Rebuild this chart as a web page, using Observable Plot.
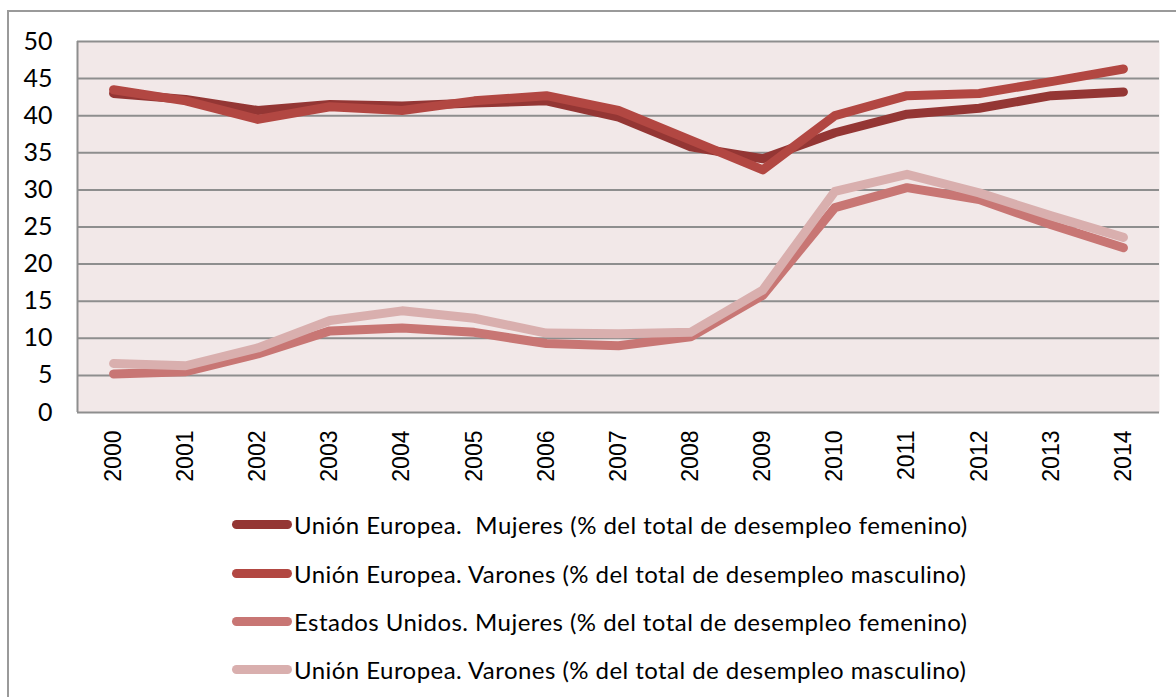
<!DOCTYPE html>
<html>
<head>
<meta charset="utf-8">
<script src="https://cdn.jsdelivr.net/npm/d3@7"></script>
<script src="https://cdn.jsdelivr.net/npm/@observablehq/plot@0.6"></script>
<style>
  html, body { margin: 0; padding: 0; background: #fff; }
  body { width: 1176px; height: 697px; position: relative; overflow: hidden; }
  #border { position: absolute; left: 7px; top: 10px; width: 1300px; height: 800px;
            border-left: 2px solid #9a9a9a; border-top: 2px solid #9a9a9a; }
  #chart { position: absolute; left: 0; top: 0; }
  #legend { position: absolute; left: 0; top: 0; width: 1176px; }
  .row { position: absolute; left: 232px; height: 30px; display: flex; align-items: center;
         font-family: Lato, "Open Sans", sans-serif; font-size: 24px; letter-spacing: 0.45px;
         color: #000; white-space: pre; }
  .sw { width: 60px; height: 9px; border-radius: 5px; margin-right: 2px; }
</style>
</head>
<body>
<div id="border"></div>
<div id="chart"></div>
<div id="legend"></div>
<script>
const years = [2000,2001,2002,2003,2004,2005,2006,2007,2008,2009,2010,2011,2012,2013,2014];
const seriesNames = [
  "Unión Europea.  Mujeres (% del total de desempleo femenino)",
  "Unión Europea. Varones (% del total de desempleo masculino)",
  "Estados Unidos. Mujeres (% del total de desempleo femenino)",
  "Unión Europea. Varones (% del total de desempleo masculino)"
];
const seriesColors = ["#943634", "#b24742", "#c87674", "#d9afae"];
const euMujeres = [43.0, 42.2, 40.7, 41.5, 41.3, 41.7, 42.0, 39.8, 35.8, 34.2, 37.7, 40.2, 41.0, 42.7, 43.2];
const euVarones = [43.5, 42.0, 39.5, 41.2, 40.7, 42.0, 42.7, 40.7, 36.7, 32.7, 40.0, 42.7, 43.0, 44.6, 46.3];
const usMujeres = [5.2, 5.5, 7.9, 11.0, 11.4, 10.8, 9.3, 9.0, 10.2, 15.8, 27.6, 30.3, 28.7, 25.3, 22.2];
const serie4 = [6.6, 6.3, 8.7, 12.4, 13.7, 12.7, 10.7, 10.6, 10.8, 16.5, 29.8, 32.1, 29.6, 26.5, 23.6];
const yTicks = [0,5,10,15,20,25,30,35,40,45,50];

const allSeries = [euMujeres, euVarones, usMujeres, serie4];
const data = [];
allSeries.forEach((vals, si) => vals.forEach((v, i) => data.push({year: years[i], value: v, s: si})));

const chart = Plot.plot({
  width: 1176,
  height: 500,
  marginTop: 41,
  marginLeft: 77,
  marginRight: 17,
  marginBottom: 88,
  x: {domain: [1999.5, 2014.5]},
  y: {domain: [0, 50]},
  marks: [
    Plot.frame({fill: "#f2e8e8", stroke: null}),
    Plot.ruleY(yTicks, {stroke: "#8e8e8e", strokeWidth: 2}),
    Plot.ruleX([1999.5], {stroke: "#8e8e8e", strokeWidth: 2}),
    Plot.axisY({ticks: yTicks, tickSize: 0, tickPadding: 25, fontSize: 25,
                fontFamily: "Lato, sans-serif", fill: "#000", label: null}),
    Plot.axisX({ticks: years, tickFormat: d => String(d), tickSize: 0, tickPadding: 18,
                tickRotate: -90, fontSize: 23, fontFamily: "'Liberation Sans', Arial, sans-serif",
                fill: "#000", label: null}),
    ...allSeries.map((vals, si) =>
      Plot.line(data.filter(d => d.s === si), {
        x: "year", y: "value", stroke: seriesColors[si], strokeWidth: 9,
        strokeLinecap: "round", strokeLinejoin: "round"
      }))
  ]
});
document.getElementById("chart").appendChild(chart);

const legend = document.getElementById("legend");
const rowCenters = [524, 573, 621, 669];
seriesNames.forEach((name, i) => {
  const row = document.createElement("div");
  row.className = "row";
  row.style.top = (rowCenters[i] - 15) + "px";
  const sw = document.createElement("div");
  sw.className = "sw";
  sw.style.background = seriesColors[i];
  const t = document.createElement("span");
  t.textContent = name;
  row.appendChild(sw);
  row.appendChild(t);
  legend.appendChild(row);
});
</script>
</body>
</html>
